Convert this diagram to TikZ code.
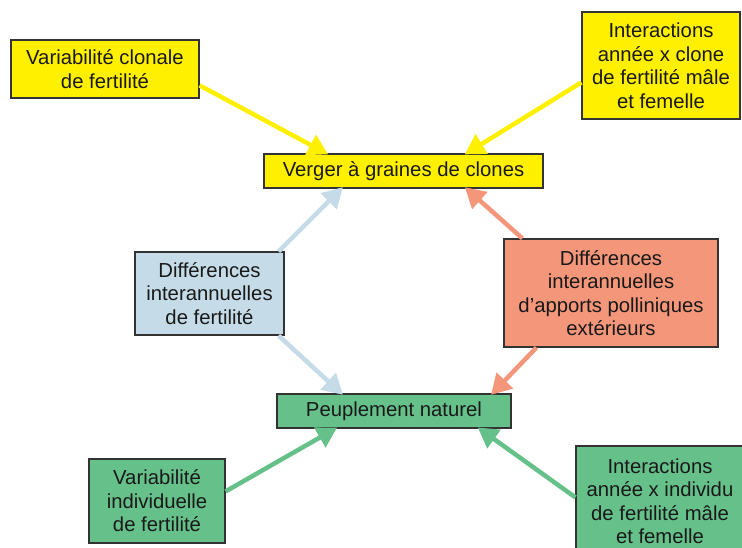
\documentclass[tikz,border=0pt]{standalone}
\usepackage{fontspec}
\setmainfont{Liberation Sans}
\usetikzlibrary{arrows.meta,calc}
\definecolor{cyel}{HTML}{FFF000}
\definecolor{cblue}{HTML}{C5DCE8}
\definecolor{csalm}{HTML}{F4967A}
\definecolor{cgreen}{HTML}{66C08A}
\definecolor{cedge}{HTML}{333333}
\tikzset{
  box/.style={draw=cedge, line width=1.2pt, rectangle, inner sep=0pt, align=center,
    font=\fontsize{20.3}{23.5}\selectfont, text=black!90},
  conn/.style={line width=4.5pt, -{Triangle[length=20pt,width=22pt]}, shorten >=-2pt},
}
\begin{document}
\begin{tikzpicture}[x=1pt,y=-1pt]
\useasboundingbox[fill=white] (0,0) rectangle (742,548);
% nodes
\node[box, fill=cyel, minimum width=188pt, minimum height=58pt] (vc) at (105,69)
  {Variabilité clonale\\de fertilité};
\node[box, fill=cyel, minimum width=158pt, minimum height=107pt] (iac) at (661,65.5)
  {Interactions\\année x clone\\de fertilité mâle\\et femelle};
\node[box, fill=cyel, minimum width=279pt, minimum height=34pt] (vg) at (403.5,171)
  {Verger à graines de clones};
\node[box, fill=cblue, minimum width=149pt, minimum height=83pt] (di) at (209.5,293.5)
  {Différences\\interannuelles\\de fertilité};
\node[box, fill=csalm, minimum width=214pt, minimum height=108pt] (dp) at (611,293)
  {Différences\\interannuelles\\d’apports polliniques\\extérieurs};
\node[box, fill=cgreen, minimum width=234pt, minimum height=34pt] (pn) at (394,411)
  {Peuplement naturel};
\node[box, fill=cgreen, minimum width=136pt, minimum height=84pt] (vi) at (157,501)
  {Variabilité\\individuelle\\de fertilité};
\node[box, fill=cgreen, minimum width=168pt, minimum height=110pt] (iai) at (660,501)
  {Interactions\\année x individu\\de fertilité mâle\\et femelle};
% connectors
\draw[conn, draw=cyel] ($(vc.north east)+(0,46)$) -- ($(vg.north west)+(63,0)$);
\draw[conn, draw=cyel] ($(iac.north west)+(0,71)$) -- ($(vg.north west)+(203,0)$);
\draw[conn, draw=cblue] ($(di.north east)+(-6,0)$) -- ($(vg.south west)+(78,0)$);
\draw[conn, draw=cblue] ($(di.south east)+(-6,0)$) -- ($(pn.north west)+(65,0)$);
\draw[conn, draw=csalm] ($(dp.north west)+(19,0)$) -- ($(vg.south west)+(203,0)$);
\draw[conn, draw=csalm] ($(dp.south west)+(33,0)$) -- ($(pn.north west)+(216,0)$);
\draw[conn, draw=cgreen] ($(vi.north east)+(0,33)$) -- ($(pn.south west)+(59,0)$);
\draw[conn, draw=cgreen] ($(iai.north west)+(0,52)$) -- ($(pn.south west)+(203,0)$);
\end{tikzpicture}
\end{document}
